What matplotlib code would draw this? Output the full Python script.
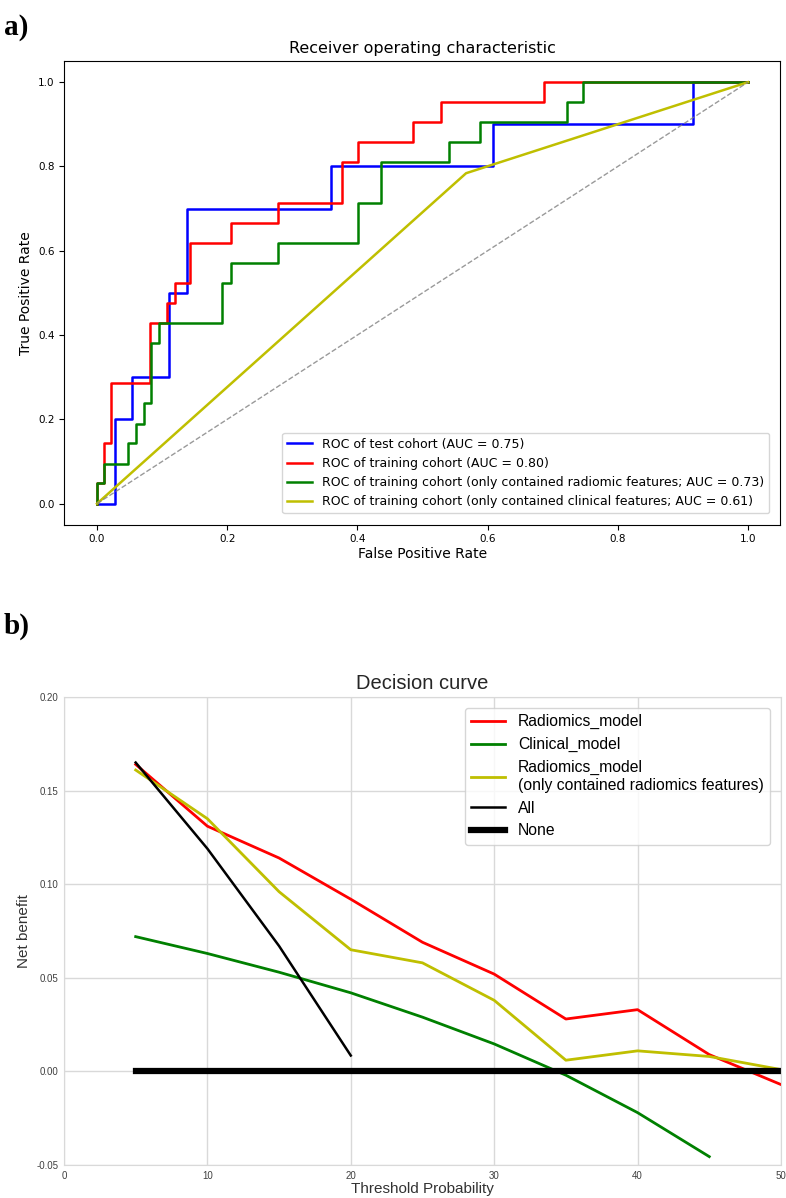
import matplotlib
matplotlib.use("Agg")
import matplotlib.pyplot as plt

# ---------------- ROC data ----------------
test_fpr = [0.0, 0.027, 0.027, 0.054, 0.054, 0.111, 0.111, 0.138, 0.138, 0.36, 0.36, 0.609, 0.609, 0.916, 0.916, 1.0]
test_tpr = [0.0, 0.0, 0.2, 0.2, 0.3, 0.3, 0.5, 0.5, 0.7, 0.7, 0.8, 0.8, 0.9, 0.9, 1.0, 1.0]

train_fpr = [0.0, 0.0, 0.011, 0.011, 0.022, 0.022, 0.082, 0.082, 0.108, 0.108, 0.12, 0.12, 0.143, 0.143,
             0.206, 0.206, 0.278, 0.278, 0.376, 0.376, 0.401, 0.401, 0.486, 0.486, 0.528, 0.528, 0.686, 0.686, 1.0]
train_tpr = [0.0, 0.048, 0.048, 0.143, 0.143, 0.286, 0.286, 0.429, 0.429, 0.476, 0.476, 0.524, 0.524, 0.619,
             0.619, 0.667, 0.667, 0.714, 0.714, 0.81, 0.81, 0.857, 0.857, 0.905, 0.905, 0.952, 0.952, 1.0, 1.0]

rad_fpr = [0.0, 0.0, 0.011, 0.011, 0.048, 0.048, 0.06, 0.06, 0.072, 0.072, 0.083, 0.083, 0.095, 0.095,
           0.192, 0.192, 0.206, 0.206, 0.278, 0.278, 0.401, 0.401, 0.436, 0.436, 0.541, 0.541, 0.588, 0.588,
           0.7215, 0.7215, 0.746, 0.746, 1.0]
rad_tpr = [0.0, 0.048, 0.048, 0.095, 0.095, 0.143, 0.143, 0.19, 0.19, 0.238, 0.238, 0.381, 0.381, 0.429,
           0.429, 0.524, 0.524, 0.571, 0.571, 0.619, 0.619, 0.714, 0.714, 0.81, 0.81, 0.857, 0.857, 0.905,
           0.905, 0.952, 0.952, 1.0, 1.0]

clin_fpr = [0.0, 0.567, 1.0]
clin_tpr = [0.0, 0.784, 1.0]

roc_labels = ["ROC of test cohort (AUC = 0.75)",
              "ROC of training cohort (AUC = 0.80)",
              "ROC of training cohort (only contained radiomic features; AUC = 0.73)",
              "ROC of training cohort (only contained clinical features; AUC = 0.61)"]

# ---------------- Decision curve data ----------------
thresholds = [5, 10, 15, 20, 25, 30, 35, 40, 45, 50]
nb_radiomics = [0.164, 0.131, 0.114, 0.092, 0.069, 0.052, 0.028, 0.033, 0.009, -0.007]
nb_rad_only = [0.161, 0.135, 0.096, 0.065, 0.058, 0.038, 0.006, 0.011, 0.008, 0.001]
thr_clin = [5, 10, 15, 20, 25, 30, 35, 40, 45]
nb_clinical = [0.072, 0.063, 0.053, 0.042, 0.029, 0.0147, -0.002, -0.022, -0.0455]
thr_all = [5, 10, 15, 20]
nb_all = [0.165, 0.119, 0.067, 0.0085]
nb_none = [0, 0, 0, 0, 0, 0, 0, 0, 0, 0]

dc_labels = ["Radiomics_model", "Clinical_model",
             "Radiomics_model\n(only contained radiomics features)", "All", "None"]

plt.rcParams['axes.unicode_minus'] = False

fig = plt.figure(figsize=(7.86, 11.98), dpi=100)

# ---------------- Panel a ----------------
ax1 = fig.add_axes([0.082, 0.562, 0.911, 0.387])
ax1.plot(test_fpr, test_tpr, color='b', lw=1.8, label=roc_labels[0])
ax1.plot(train_fpr, train_tpr, color='r', lw=1.8, label=roc_labels[1])
ax1.plot(rad_fpr, rad_tpr, color='g', lw=1.8, label=roc_labels[2])
ax1.plot(clin_fpr, clin_tpr, color='y', lw=1.8, label=roc_labels[3])
ax1.plot([0, 1], [0, 1], color='gray', lw=1, ls='--', alpha=0.8)
ax1.set_xlim(-0.05, 1.05)
ax1.set_ylim(-0.05, 1.05)
ax1.set_xticks([0.0, 0.2, 0.4, 0.6, 0.8, 1.0])
ax1.set_yticks([0.0, 0.2, 0.4, 0.6, 0.8, 1.0])
ax1.tick_params(labelsize=7.5)
ax1.set_xlabel("False Positive Rate", fontsize=10, labelpad=2)
ax1.set_ylabel("True Positive Rate", fontsize=10)
ax1.set_title("Receiver operating characteristic", fontsize=11.5)
ax1.legend(loc='lower right', fontsize=9, borderaxespad=0.9)

# ---------------- Panel b ----------------
ax2 = fig.add_axes([0.0814, 0.0275, 0.9122, 0.3907])
ax2.set_axisbelow(True)
ax2.grid(True, color='0.85', lw=1)
for s in ax2.spines.values():
    s.set_color('0.85')
ax2.plot(thresholds, nb_radiomics, color='r', lw=2, label=dc_labels[0])
ax2.plot(thr_clin, nb_clinical, color='g', lw=2, label=dc_labels[1])
ax2.plot(thresholds, nb_rad_only, color='y', lw=2, label=dc_labels[2])
ax2.plot(thr_all, nb_all, color='k', lw=1.8, label=dc_labels[3])
ax2.plot(thresholds, nb_none, color='k', lw=4.5, label=dc_labels[4])
ax2.set_xlim(0, 50)
ax2.set_ylim(-0.05, 0.20)
ax2.set_xticks([0, 10, 20, 30, 40, 50])
ax2.set_yticks([-0.05, 0.00, 0.05, 0.10, 0.15, 0.20])
ax2.set_yticklabels(["-0.05", "0.00", "0.05", "0.10", "0.15", "0.20"])
ax2.tick_params(length=0, labelsize=7, labelcolor='0.25', pad=4)
for t in ax2.get_xticklabels() + ax2.get_yticklabels():
    t.set_family('Liberation Sans')
ax2.set_xlabel("Threshold Probability", fontsize=11, family='Liberation Sans', color='0.2', labelpad=1)
ax2.set_ylabel("Net benefit", fontsize=11, family='Liberation Sans', color='0.2')
ax2.set_title("Decision curve", fontsize=14.5, family='Liberation Sans', color='0.15', pad=6)
leg = ax2.legend(loc='upper right', prop={'family': 'Liberation Sans', 'size': 11.3}, frameon=True,
                 handlelength=2.2, borderaxespad=0.7)
leg.get_frame().set_edgecolor('0.8')

# ---------------- Panel letters ----------------
fig.text(0.005, 0.977, "a)", fontsize=21, fontweight='bold', family='Liberation Serif', va='center')
fig.text(0.005, 0.477, "b)", fontsize=21, fontweight='bold', family='Liberation Serif', va='center')

fig.savefig("out.png", dpi=100)
